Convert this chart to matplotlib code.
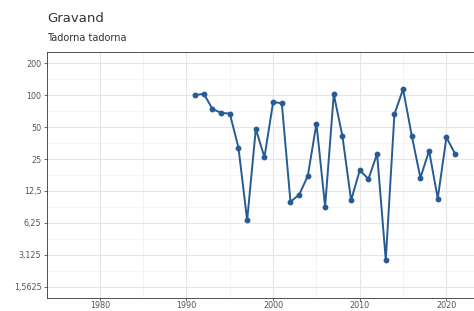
import numpy as np
import matplotlib
matplotlib.use('Agg')
from matplotlib import pyplot as plt
from matplotlib.ticker import FixedLocator, FixedFormatter

years = list(range(1991, 2022))
counts = [100, 103, 74, 68, 67, 32, 6.6, 48, 26, 86, 84, 9.9, 11.5, 17.3, 54, 8.9,
          102, 41, 10.2, 19.6, 16.2, 28, 2.8, 66, 114, 41.5, 16.6, 30, 10.6, 40, 28]

y_ticks = [1.5625, 3.125, 6.25, 12.5, 25, 50, 100, 200]
y_labels = ['1,5625', '3,125', '6,25', '12,5', '25', '50', '100', '200']
x_ticks = [1980, 1990, 2000, 2010, 2020]

line_col = '#275b93'

fig = plt.figure(figsize=(4.74, 3.11), dpi=100)
ax = fig.add_axes([47/474, 13/311, 428/474, 246/311])

ax.plot(years, counts, color=line_col, lw=1.4, marker='o', ms=3.2, zorder=3)

ax.set_yscale('log', base=2)
ax.set_ylim(1.5625 / 2**0.35, 200 * 2**0.35)
ax.set_xlim(1973.9, 2023.3)

ax.yaxis.set_major_locator(FixedLocator(y_ticks))
ax.yaxis.set_major_formatter(FixedFormatter(y_labels))
ax.yaxis.set_minor_locator(FixedLocator([v * 2**0.5 for v in y_ticks[:-1]]))
ax.yaxis.set_minor_formatter(FixedFormatter([]))
ax.set_xticks(x_ticks)
ax.set_xticks([1985, 1995, 2005, 2015], minor=True)

ax.grid(which='major', color='#e6e6e6', lw=0.8)
ax.grid(which='minor', color='#f0f0f0', lw=0.5)
ax.set_axisbelow(True)
ax.tick_params(which='major', labelsize=5.8, colors='#555555', length=2.5, width=0.6, pad=1.5)
ax.tick_params(axis='x', which='major', length=1.8, pad=0.4)
ax.tick_params(which='minor', length=0)
for s in ax.spines.values():
    s.set_color('#333333')
    s.set_linewidth(0.6)

fig.text(47/474, 1 - 19/311, 'Gravand', fontsize=9.5, color='#333333', va='center')
fig.text(47/474, 1 - 38/311, 'Tadorna tadorna', fontsize=7, color='#333333', va='center')

fig.savefig('out.png', dpi=100)
